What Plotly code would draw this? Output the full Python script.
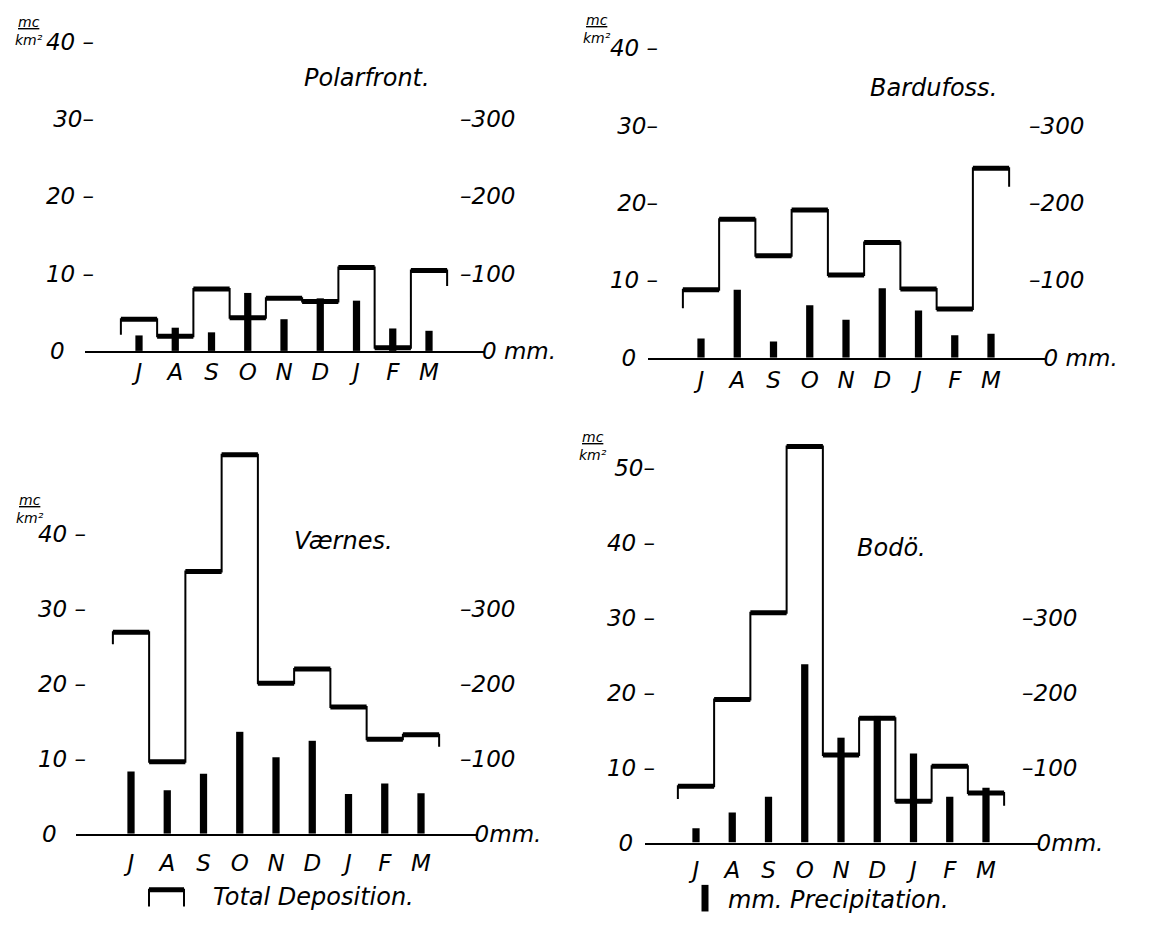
import plotly.graph_objects as go

W, H = 1164, 948

# ---------------- data ----------------
months = ["J", "A", "S", "O", "N", "D", "J", "F", "M"]
station_names = ["Polarfront.", "Bardufoss.", "Værnes.", "Bodö."]

# total deposition (mc/km²)
polarfront_dep = [4.1, 1.9, 8.0, 4.3, 6.8, 6.4, 10.8, 0.4, 10.4]
bardufoss_dep = [8.8, 17.9, 13.2, 19.1, 10.7, 14.9, 8.9, 6.3, 24.5]
vaernes_dep = [26.9, 9.6, 35.0, 50.6, 20.1, 22.0, 16.9, 12.6, 13.2]
bodo_dep = [7.5, 19.1, 30.7, 52.9, 11.7, 16.6, 5.5, 10.2, 6.6]

# precipitation (mm)
polarfront_prec = [20, 30, 24, 75, 41, 68, 65, 29, 26]
bardufoss_prec = [25, 88, 21, 68, 49, 90, 61, 29, 31]
vaernes_prec = [83, 58, 80, 136, 102, 124, 53, 67, 54]
bodo_prec = [19, 40, 61, 238, 140, 169, 119, 61, 73]

# tick values / labels
left_ticks_40 = [0, 10, 20, 30, 40]
left_ticks_50 = [0, 10, 20, 30, 40, 50]
right_ticks = [0, 100, 200, 300]
NB = "\u00a0"
left_text_p1 = ["0" + NB * 4, "10 –", "20 –", "30–", "40 –"]
left_text_p2 = ["0" + NB * 3, "10 –", "20–", "30–", "40 –"]
left_text_p3 = ["0" + NB * 4, "10 –", "20 –", "30 –", "40 –"]
left_text_p4 = ["0" + NB * 3, "10 –", "20 –", "30 –", "40 –", "50–"]
right_text_p1 = [NB * 3 + "0 mm.", "–100", "–200", "–300"]
right_text_p2 = [NB * 2 + "0 mm.", "–100", "–200", "–300"]
right_text_p3 = [NB * 2 + "0mm.", "–100", "–200", "–300"]
right_text_p4 = [NB * 2 + "0mm.", "–100", "–200", "–300"]
unit_text = "<u>mc</u><br>km²"

# ---------------- layout geometry (pixels) ----------------
panels = [
    dict(dep=polarfront_dep, prec=polarfront_prec, name=station_names[0],
         x0=77, x1=477, m0=131, step=36.25, base=347, scale=7.84, ytop=41.5,
         lticks=left_ticks_40, ltext=left_text_p1, rtext=right_text_p1,
         lpos=86, rpos=451, title=(359, 70), unit=(21, 4), drop=2.0, standoff=0),
    dict(dep=bardufoss_dep, prec=bardufoss_prec, name=station_names[1],
         x0=640, x1=1037, m0=693, step=36.25, base=354, scale=7.85, ytop=42,
         lticks=left_ticks_40, ltext=left_text_p2, rtext=right_text_p2,
         lpos=650, rpos=1020, title=(925, 80), unit=(589, 2), drop=2.4, standoff=1),
    dict(dep=vaernes_dep, prec=vaernes_prec, name=station_names[2],
         x0=68, x1=470, m0=123, step=36.25, base=837, scale=7.6, ytop=54,
         lticks=left_ticks_40, ltext=left_text_p3, rtext=right_text_p3,
         lpos=78, rpos=451, title=(336, 540), unit=(22, 489), drop=1.6, standoff=8),
    dict(dep=bodo_dep, prec=bodo_prec, name=station_names[3],
         x0=637, x1=1032, m0=688, step=36.25, base=846, scale=7.6, ytop=55,
         lticks=left_ticks_50, ltext=left_text_p4, rtext=right_text_p4,
         lpos=647, rpos=1013, title=(883, 547), unit=(585, 425), drop=1.7, standoff=6),
]

FONT = "DejaVu Sans"


def px(x):
    return x / W


def py(y):
    return 1 - y / H


fig = go.Figure()
layout = dict(
    width=W, height=H, margin=dict(l=0, r=0, t=0, b=0),
    paper_bgcolor="white", plot_bgcolor="rgba(0,0,0,0)",
    showlegend=False, barmode="overlay",
    annotations=[], shapes=[],
)

tick_font = dict(family=FONT, size=23, color="black", style="italic")

for p, cfg in enumerate(panels):
    xname = "xaxis" if p == 0 else f"xaxis{p + 1}"
    xref = "x" if p == 0 else f"x{p + 1}"
    yl = 2 * p + 1
    yr = 2 * p + 2
    ylname = "yaxis" if yl == 1 else f"yaxis{yl}"
    ylref = "y" if yl == 1 else f"y{yl}"
    yrname = f"yaxis{yr}"
    yrref = f"y{yr}"

    dep = cfg["dep"]
    prec = cfg["prec"]
    n = len(dep)
    d = cfg["drop"]

    # thin step outline
    xs = [-0.5]
    ys = [dep[0] - d]
    for i, v in enumerate(dep):
        xs += [i - 0.5, i + 0.5]
        ys += [v, v]
    xs.append(n - 0.5)
    ys.append(dep[-1] - d)
    fig.add_trace(go.Scatter(x=xs, y=ys, mode="lines",
                             line=dict(color="black", width=2),
                             xaxis=xref, yaxis=ylref, hoverinfo="skip"))
    # thick horizontal tops
    hx, hy = [], []
    for i, v in enumerate(dep):
        hx += [i - 0.5, i + 0.5, None]
        hy += [v, v, None]
    fig.add_trace(go.Scatter(x=hx, y=hy, mode="lines",
                             line=dict(color="black", width=5),
                             xaxis=xref, yaxis=ylref, hoverinfo="skip"))
    # precipitation bars
    fig.add_trace(go.Bar(x=list(range(n)), y=prec, width=0.2,
                         marker=dict(color="black", line=dict(width=0)),
                         xaxis=xref, yaxis=yrref, hoverinfo="skip"))

    top_px = cfg["base"] - cfg["ytop"] * cfg["scale"]
    layout[xname] = dict(
        domain=[px(cfg["x0"]), px(cfg["x1"])],
        range=[(cfg["x0"] - cfg["m0"]) / cfg["step"], (cfg["x1"] - cfg["m0"]) / cfg["step"]],
        anchor=ylref, tickmode="array", tickvals=list(range(n)), ticktext=months,
        showline=True, linecolor="black", linewidth=2, showgrid=False,
        zeroline=False, ticks="", ticklen=0, tickfont=tick_font,
        ticklabelstandoff=cfg["standoff"], fixedrange=True,
    )
    layout[ylname] = dict(
        domain=[py(cfg["base"]), py(top_px)], range=[0, cfg["ytop"]],
        anchor="free", position=px(cfg["lpos"]), side="left",
        tickmode="array", tickvals=cfg["lticks"], ticktext=cfg["ltext"],
        showline=False, showgrid=False, zeroline=False, ticks="", ticklen=0,
        tickfont=tick_font, fixedrange=True,
    )
    layout[yrname] = dict(
        overlaying=ylref, range=[0, cfg["ytop"] * 10],
        anchor="free", position=px(cfg["rpos"]), side="right",
        tickmode="array", tickvals=right_ticks, ticktext=cfg["rtext"],
        showline=False, showgrid=False, zeroline=False, ticks="", ticklen=0,
        tickfont=tick_font, fixedrange=True,
    )

    tx, ty = cfg["title"]
    layout["annotations"].append(dict(
        text=cfg["name"], x=px(tx), y=py(ty), xref="paper", yref="paper",
        xanchor="center", yanchor="middle", showarrow=False,
        font=dict(family=FONT, size=24, color="black", style="italic")))
    ux, uy = cfg["unit"]
    layout["annotations"].append(dict(
        text=unit_text, x=px(ux), y=py(uy), xref="paper", yref="paper",
        xanchor="center", yanchor="top", showarrow=False, align="center",
        borderpad=0,
        font=dict(family=FONT, size=14, color="black", style="italic")))

# legend glyphs + texts
layout["shapes"].append(dict(type="path", xref="paper", yref="paper",
                             path=f"M {px(141)},{py(911)} L {px(141)},{py(894)} L {px(176)},{py(894)} L {px(176)},{py(911)}",
                             line=dict(color="black", width=2)))
layout["shapes"].append(dict(type="line", xref="paper", yref="paper",
                             x0=px(141), x1=px(176), y0=py(894), y1=py(894),
                             line=dict(color="black", width=5)))
layout["shapes"].append(dict(type="line", xref="paper", yref="paper",
                             x0=px(697), x1=px(697), y0=py(889), y1=py(916),
                             line=dict(color="black", width=7)))
layout["annotations"].append(dict(
    text="Total Deposition.", x=px(203), y=py(901), xref="paper", yref="paper",
    xanchor="left", yanchor="middle", showarrow=False,
    font=dict(family=FONT, size=24, color="black", style="italic")))
layout["annotations"].append(dict(
    text="mm. Precipitation.", x=px(718), y=py(904), xref="paper", yref="paper",
    xanchor="left", yanchor="middle", showarrow=False,
    font=dict(family=FONT, size=24, color="black", style="italic")))

fig.update_layout(**layout)
fig.write_html("out.html")
